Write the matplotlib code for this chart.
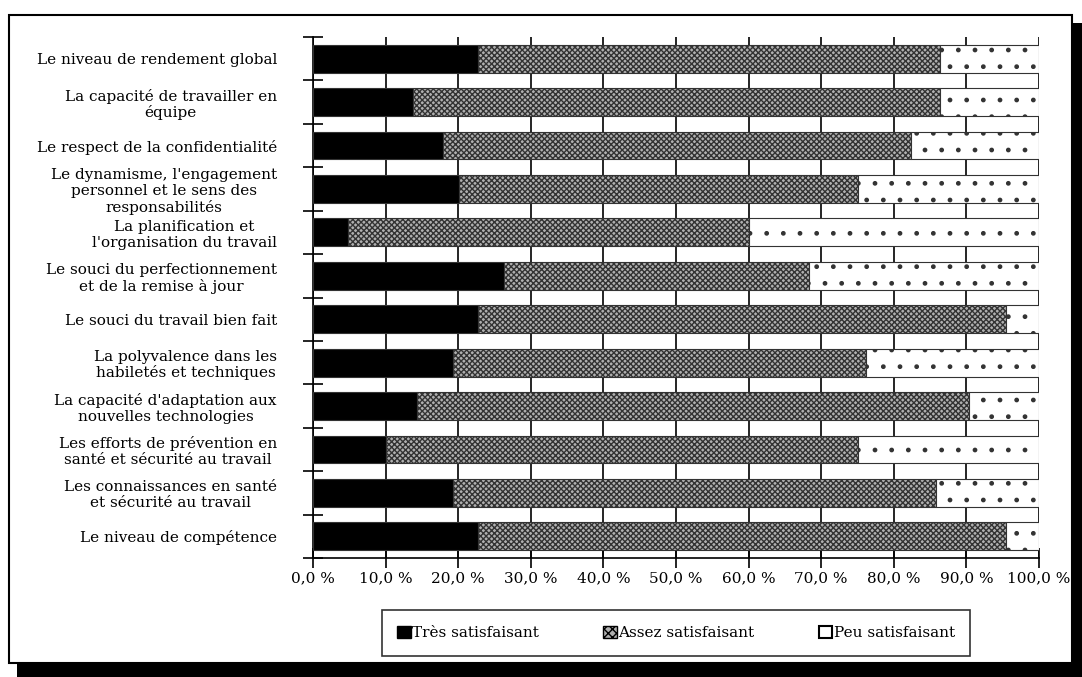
import numpy as np
import matplotlib.pyplot as plt
from matplotlib.patches import Rectangle, Patch

plt.rcParams['font.family'] = ['DejaVu Serif']
plt.rcParams['hatch.linewidth'] = 1.0

categories = [
    "Le niveau de rendement global",
    "La capacité de travailler en\néquipe",
    "Le respect de la confidentialité",
    "Le dynamisme, l'engagement\npersonnel et le sens des\nresponsabilités",
    "La planification et\nl'organisation du travail",
    "Le souci du perfectionnement\net de la remise à jour",
    "Le souci du travail bien fait",
    "La polyvalence dans les\nhabiletés et techniques",
    "La capacité d'adaptation aux\nnouvelles technologies",
    "Les efforts de prévention en\nsanté et sécurité au travail",
    "Les connaissances en santé\net sécurité au travail",
    "Le niveau de compétence",
]
tres = [22.7, 13.8, 17.9, 20.1, 4.8, 26.3, 22.7, 19.3, 14.3, 10.0, 19.3, 22.7]
assez = [63.6, 72.5, 64.5, 54.9, 55.3, 42.0, 72.7, 56.9, 76.1, 65.0, 66.5, 72.7]
peu = [13.7, 13.7, 17.6, 25.0, 39.9, 31.7, 4.6, 23.8, 9.6, 25.0, 14.2, 4.6]
series_names = ["Très satisfaisant", "Assez satisfaisant", "Peu satisfaisant"]
xticks = np.arange(0, 101, 10)

fig = plt.figure(figsize=(10.82, 6.77), dpi=100)

# outer frame with drop shadow
W, H = 1082, 677
fig.patches.append(Rectangle((17 / W, 0), 1 - 17 / W, 1 - 23 / H, transform=fig.transFigure,
                             facecolor="black", edgecolor="none", zorder=-3))
fig.patches.append(Rectangle((9 / W, 1 - 663 / H), (1072 - 9) / W, (663 - 15) / H,
                             transform=fig.transFigure, facecolor="white",
                             edgecolor="black", linewidth=1.5, zorder=-2))

ax = fig.add_axes([313 / W, 1 - 558 / H, (1039 - 313) / W, (558 - 37) / H])
ax.set_facecolor("none")
ax.set_zorder(2)

y = np.arange(len(categories))
h = 0.64
ec = "#333333"
ax.barh(y, tres, height=h, color="black", edgecolor=ec, linewidth=0.8, zorder=3)
ax.barh(y, assez, left=tres, height=h, color="#b0b0b0", edgecolor=ec, hatch="xxxxxx",
        linewidth=0.8, zorder=3)
left2 = np.array(tres) + np.array(assez)
ax.barh(y, peu, left=left2, height=h, color="white", edgecolor=ec, hatch=".",
        linewidth=0.8, zorder=3)

ax.set_xlim(0, 100)
ax.set_ylim(len(categories) - 0.5, -0.5)
ax.set_xticks(xticks)
ax.set_xticklabels([f"{v:.1f} %".replace(".", ",") for v in xticks], fontsize=11)
ax.xaxis.grid(True, color="black", linewidth=1.2, zorder=0)
ax.set_axisbelow(True)

ax.set_yticks(y)
ax.set_yticklabels(categories, fontsize=11, multialignment="center", linespacing=1.15)
ax.set_yticks(np.arange(-0.5, len(categories)), minor=True)
ax.tick_params(axis="y", which="major", length=0, pad=26)
ax.tick_params(axis="y", which="minor", length=14, width=1.2, direction="inout")
ax.tick_params(axis="x", length=15, width=1.2, direction="inout", pad=2)

for s in ["top", "right"]:
    ax.spines[s].set_visible(False)
for s in ["left", "bottom"]:
    ax.spines[s].set_linewidth(1.2)

handles = [
    Patch(facecolor="black", edgecolor="black", label=series_names[0]),
    Patch(facecolor="#b0b0b0", edgecolor="black", hatch="xxxx", label=series_names[1]),
    Patch(facecolor="white", edgecolor="black", linewidth=1.5, label=series_names[2]),
]
leg = fig.legend(handles=handles, loc="center", bbox_to_anchor=(676 / W, 1 - 633 / H),
                 ncol=3, frameon=True, fancybox=False, edgecolor="black", fontsize=11,
                 handlelength=0.9, handleheight=0.9, handletextpad=0.1, columnspacing=4.2,
                 borderpad=1.0)
leg.get_frame().set_linewidth(1.2)

fig.savefig("out.png", dpi=100)
